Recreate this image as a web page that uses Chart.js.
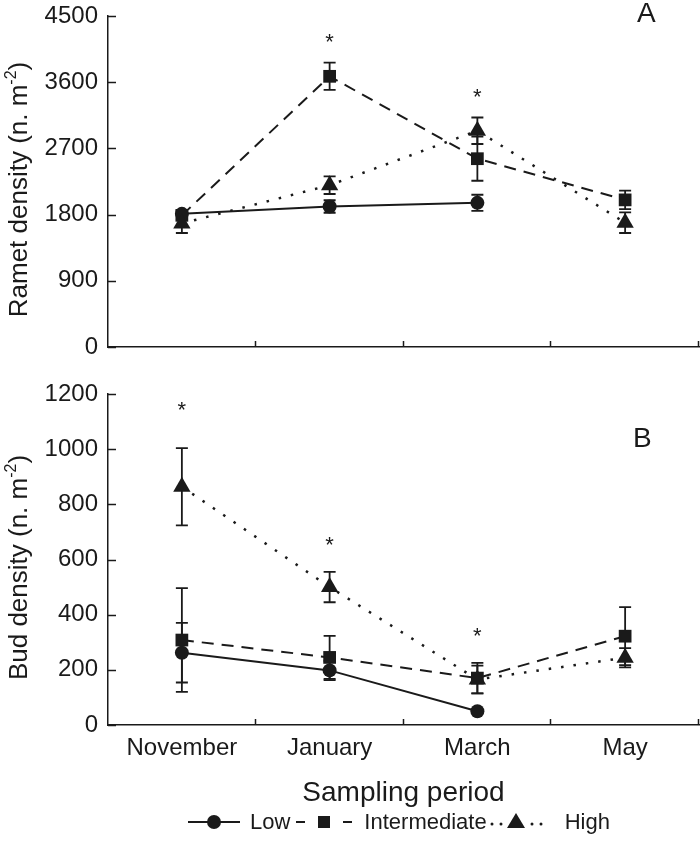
<!DOCTYPE html>
<html>
<head>
<meta charset="utf-8">
<script src="https://cdn.jsdelivr.net/npm/chart.js@4/dist/chart.umd.min.js"></script>
<style>
  html, body { margin: 0; padding: 0; background: #fff; }
  body { width: 700px; height: 846px; position: relative; overflow: hidden; font-family: "Liberation Sans", Arial, sans-serif; color: #1a1a1a; }
  #c1 { position: absolute; left: 0; top: 0; }
  #c2 { position: absolute; left: 0; top: 360px; }
  #legend { position: absolute; left: 188px; top: 808px; height: 28px; display: flex; align-items: center; font-size: 22px; line-height: 28px; white-space: nowrap; z-index: 2; }
  #legend svg { display: block; }
</style>
</head>
<body>
<canvas id="c1" width="700" height="360"></canvas>
<canvas id="c2" width="700" height="460"></canvas>
<div id="legend">
  <svg width="52" height="28"><line x1="0" y1="14" x2="52" y2="14" stroke="#1a1a1a" stroke-width="2"/><circle cx="26" cy="14" r="7" fill="#1a1a1a"/></svg>
  <span style="margin-left:10px">Low</span>
  <svg width="56" height="28" style="margin-left:6px"><line x1="0" y1="14" x2="9" y2="14" stroke="#1a1a1a" stroke-width="2"/><rect x="22" y="8" width="12" height="12" fill="#1a1a1a"/><line x1="47" y1="14" x2="56" y2="14" stroke="#1a1a1a" stroke-width="2"/></svg>
  <span style="margin-left:12px">Intermediate</span>
  <svg width="62" height="28" style="margin-left:2px"><circle cx="3" cy="16" r="1.5" fill="#1a1a1a"/><circle cx="12" cy="16" r="1.5" fill="#1a1a1a"/><polygon points="27,5 36,20 18,20" fill="#1a1a1a"/><circle cx="43" cy="16" r="1.5" fill="#1a1a1a"/><circle cx="52" cy="16" r="1.5" fill="#1a1a1a"/></svg>
  <span style="margin-left:14px">High</span>
</div>
<script>
// ---------- DATA ----------
const categories = ['November', 'January', 'March', 'May'];

// Panel A: Ramet density
const rametLow = [1810, 1910, 1960, null];
const rametLowErr = [50, 85, 110, null];
const rametInter = [1790, 3680, 2560, 2000];
const rametInterErr = [60, 185, 300, 125];
const rametHigh = [1680, 2200, 2940, 1690];
const rametHighErr = [130, 120, 180, 140];
const rametTicks = [0, 900, 1800, 2700, 3600, 4500];
const rametStarIdx = [1, 2];
const rametStarVal = [4190, 3440];

// Panel B: Bud density
const budLow = [262, 198, 50, null];
const budLowErr = [108, 35, 0, null];
const budInter = [308, 245, 170, 322];
const budInterErr = [188, 78, 55, 105];
const budHigh = [864, 500, 165, 244];
const budHighErr = [140, 55, 50, 35];
const budTicks = [0, 200, 400, 600, 800, 1000, 1200];
const budStarIdx = [0, 1, 2];
const budStarVal = [1154, 665, 332];

// ---------- STYLE ----------
const INK = '#1a1a1a';
const FONT = '"Liberation Sans", Arial, sans-serif';

const errorBarPlugin = {
  id: 'errorBars',
  beforeDatasetsDraw(chart) {
    const ctx = chart.ctx;
    const y = chart.scales.y;
    ctx.save();
    ctx.strokeStyle = INK;
    ctx.lineWidth = 1.8;
    chart.data.datasets.forEach((ds, di) => {
      const meta = chart.getDatasetMeta(di);
      if (!ds.errors) return;
      ds.data.forEach((v, i) => {
        const e = ds.errors[i];
        if (v === null || e === null || !e) return;
        const px = meta.data[i].x;
        const yt = y.getPixelForValue(v + e);
        const yb = y.getPixelForValue(v - e);
        ctx.beginPath();
        ctx.moveTo(px, yt); ctx.lineTo(px, yb);
        ctx.moveTo(px - 6, yt); ctx.lineTo(px + 6, yt);
        ctx.moveTo(px - 6, yb); ctx.lineTo(px + 6, yb);
        ctx.stroke();
      });
    });
    ctx.restore();
  }
};

const decorPlugin = {
  id: 'decor',
  afterDraw(chart, args, opts) {
    const ctx = chart.ctx;
    const x = chart.scales.x, y = chart.scales.y;
    const area = chart.chartArea;
    ctx.save();
    ctx.strokeStyle = INK;
    ctx.lineWidth = 1.5;
    // inward ticks on y
    y.ticks.forEach((t, i) => {
      const py = Math.round(y.getPixelForTick(i)) + 0.5;
      ctx.beginPath();
      ctx.moveTo(area.left, py); ctx.lineTo(area.left + 8, py);
      ctx.stroke();
    });
    // inward ticks on x at category boundaries
    for (let i = 0; i < categories.length; i++) {
      const px = Math.round(x.getPixelForValue(i + 0.5)) - 0.5;
      ctx.beginPath();
      ctx.moveTo(px, area.bottom); ctx.lineTo(px, area.bottom - 6);
      ctx.stroke();
    }
    // significance asterisks
    ctx.fillStyle = INK;
    ctx.font = '22px ' + FONT;
    ctx.textAlign = 'center';
    ctx.textBaseline = 'alphabetic';
    opts.starIdx.forEach((ci, k) => {
      const px = x.getPixelForValue(ci);
      const py = y.getPixelForValue(opts.starVal[k]);
      ctx.fillText('*', px, py + 10);
    });
    // panel label
    ctx.font = '28px ' + FONT;
    ctx.textAlign = 'left';
    ctx.fillText(opts.label, opts.labelX, opts.labelY);
    // y-axis title with superscript
    const main = opts.yTitle, sup = '-2', tail = ')';
    ctx.save();
    ctx.translate(27, (area.top + area.bottom) / 2 + 8);
    ctx.rotate(-Math.PI / 2);
    ctx.font = '26px ' + FONT;
    const wMain = ctx.measureText(main).width;
    const wTail = ctx.measureText(tail).width;
    ctx.font = '16px ' + FONT;
    const wSup = ctx.measureText(sup).width;
    let sx = -(wMain + wSup + wTail) / 2;
    ctx.font = '26px ' + FONT;
    ctx.fillText(main, sx, 0);
    sx += wMain;
    ctx.font = '16px ' + FONT;
    ctx.fillText(sup, sx, -11);
    sx += wSup;
    ctx.font = '26px ' + FONT;
    ctx.fillText(tail, sx, 0);
    ctx.restore();
    ctx.restore();
  }
};

function makeDatasets(low, lowErr, inter, interErr, high, highErr) {
  return [
    { label: 'Low', data: low, errors: lowErr, borderColor: INK, backgroundColor: INK,
      borderWidth: 2, pointStyle: 'circle', pointRadius: 7, pointBorderWidth: 0, order: 3 },
    { label: 'Intermediate', data: inter, errors: interErr, borderColor: INK, backgroundColor: INK,
      borderWidth: 2, borderDash: [12, 8], pointStyle: 'rect', pointRadius: 9, pointBorderWidth: 0, order: 2 },
    { label: 'High', data: high, errors: highErr, borderColor: INK, backgroundColor: INK,
      borderWidth: 2.5, borderDash: [2.5, 10], pointStyle: 'triangle', pointRadius: 10, pointBorderWidth: 0, order: 1 }
  ];
}

function makeOptions(cfg) {
  return {
    responsive: false,
    animation: false,
    layout: { autoPadding: false, padding: { top: cfg.padTop, right: 1, left: 0, bottom: 0 } },
    plugins: {
      legend: { display: false },
      tooltip: { enabled: false },
      decor: cfg.decor
    },
    scales: {
      x: {
        type: 'category',
        offset: true,
        grid: { display: false, drawTicks: false, offset: true },
        border: { display: true, color: INK, width: 1.5 },
        ticks: { display: cfg.showX, color: INK, font: { family: FONT, size: 24 }, padding: 9, maxRotation: 0 },
        title: { display: cfg.showX, text: 'Sampling period', color: INK, font: { family: FONT, size: 28 }, padding: { top: 0, bottom: 10 } },
        afterFit(s) { s.height = cfg.xHeight; s.paddingLeft = 0; s.paddingRight = 0; }
      },
      y: {
        min: 0, max: cfg.max,
        afterBuildTicks(s) { s.ticks = cfg.ticks.map(v => ({ value: v })); },
        grid: { display: false, drawTicks: false },
        border: { display: true, color: INK, width: 1.5 },
        ticks: { color: INK, font: { family: FONT, size: 24 }, padding: 10, callback: v => String(v) },
        title: { display: false },
        afterFit(s) { s.width = 108; s.paddingTop = 0; s.paddingBottom = 0; }
      }
    }
  };
}

new Chart(document.getElementById('c1'), {
  type: 'line',
  data: { labels: categories, datasets: makeDatasets(rametLow, rametLowErr, rametInter, rametInterErr, rametHigh, rametHighErr) },
  options: makeOptions({
    padTop: 16, xHeight: 13, showX: false, max: 4500, ticks: rametTicks,
    decor: { starIdx: rametStarIdx, starVal: rametStarVal, label: 'A', labelX: 637, labelY: 22, yTitle: 'Ramet density (n. m' }
  }),
  plugins: [errorBarPlugin, decorPlugin]
});

new Chart(document.getElementById('c2'), {
  type: 'line',
  data: { labels: categories, datasets: makeDatasets(budLow, budLowErr, budInter, budInterErr, budHigh, budHighErr) },
  options: makeOptions({
    padTop: 34, xHeight: 95, showX: true, max: 1200, ticks: budTicks,
    decor: { starIdx: budStarIdx, starVal: budStarVal, label: 'B', labelX: 633, labelY: 87, yTitle: 'Bud density (n. m' }
  }),
  plugins: [errorBarPlugin, decorPlugin]
});
</script>
</body>
</html>
